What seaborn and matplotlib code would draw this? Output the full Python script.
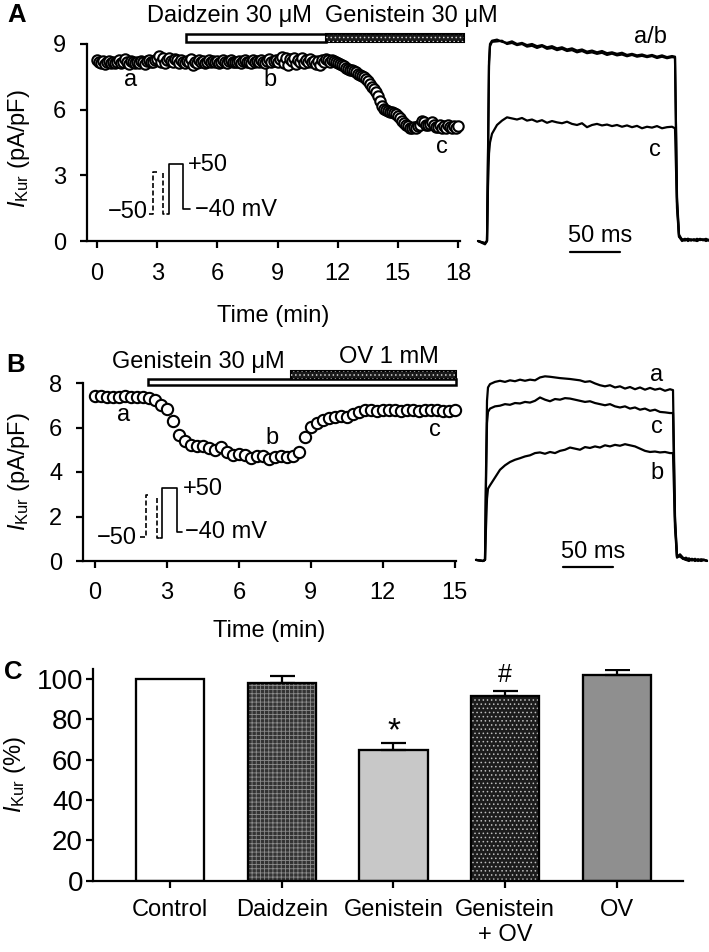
import numpy as np
import pandas as pd
import seaborn as sns
import matplotlib.pyplot as plt
from matplotlib.patches import Rectangle

# ---- panel A: time course, one sweep every 0.1 min ----
a_current = [
    8.25, 8.20, 8.15, 8.22, 8.10, 8.18, 8.24, 8.12, 8.20, 8.15,
    8.18, 8.26, 8.14, 8.20, 8.30, 8.16, 8.10, 8.22, 8.18, 8.12,
    8.20, 8.15, 8.24, 8.18, 8.10, 8.22, 8.28, 8.16, 8.20, 8.25,
    8.30, 8.45, 8.20, 8.35, 8.15, 8.25, 8.38, 8.22, 8.18, 8.30,
    8.25, 8.15, 8.28, 8.20, 8.12, 8.24, 8.18, 8.30, 8.05, 8.20,
    8.15, 8.26, 8.18, 8.22, 8.12, 8.20, 8.28, 8.16, 8.22, 8.18,
    8.24, 8.14, 8.20, 8.26, 8.18, 8.12, 8.22, 8.28, 8.16, 8.20,
    8.18, 8.24, 8.14, 8.22, 8.28, 8.16, 8.20, 8.12, 8.25, 8.18,
    8.22, 8.16, 8.28, 8.20, 8.14, 8.24, 8.30, 8.18, 8.22, 8.26,
    8.20, 8.32, 8.40, 8.15, 8.36, 8.05, 8.30, 8.22, 8.38, 8.10,
    8.28, 8.18, 8.34, 8.12, 8.26, 8.20, 8.30, 8.16, 8.24, 8.10,
    8.22, 8.05, 8.28, 8.18, 8.30, 8.25, 8.20, 8.28, 8.22, 8.18,
    8.12, 8.10, 8.02, 7.98, 7.92, 7.88, 7.80, 7.82, 7.75, 7.70,
    7.62, 7.58, 7.52, 7.50, 7.40, 7.30, 7.18, 7.05, 6.95, 6.80,
    6.62, 6.40, 6.15, 6.05, 6.00, 5.95, 5.90, 5.88, 5.85, 5.80,
    5.70, 5.62, 5.50, 5.40, 5.32, 5.25, 5.18, 5.15, 5.20, 5.18,
    5.25, 5.32, 5.50, 5.42, 5.30, 5.28, 5.35, 5.42, 5.30, 5.22,
    5.20, 5.30, 5.18, 5.25, 5.15, 5.28, 5.20, 5.16, 5.25, 5.18,
    5.25,
]
a_time = np.round(np.arange(len(a_current)) * 0.1, 2)

# ---- panel B: time course, one sweep every 0.25 min ----
b_current = [
    7.42, 7.40, 7.38, 7.36, 7.35, 7.40, 7.35, 7.36, 7.38, 7.33,
    7.25, 7.02, 6.85, 6.28, 5.68, 5.38, 5.22, 5.15, 5.15, 5.07,
    5.00, 5.12, 4.92, 4.78, 4.82, 4.75, 4.62, 4.70, 4.70, 4.58,
    4.68, 4.70, 4.68, 4.72, 4.92, 5.58, 6.02, 6.20, 6.35, 6.42,
    6.48, 6.52, 6.45, 6.62, 6.70, 6.78, 6.80, 6.76, 6.80, 6.78,
    6.80, 6.76, 6.80, 6.78, 6.75, 6.80, 6.78, 6.80, 6.76, 6.72,
    6.80,
]
b_time = np.arange(len(b_current)) * 0.25

# drug application periods (min)
a_daidzein = (4.44, 11.42)
a_genistein = (11.42, 18.3)
b_genistein = (2.21, 15.04)
b_ov = (8.17, 15.04)

# ---- current traces (ms, pA/pF) ----
trace_ms = [-9, -2, 0, 1, 2, 3, 5, 10, 15, 20, 25, 30, 35, 40, 45, 50, 55, 60,
            65, 70, 75, 80, 85, 90, 95, 100, 105, 110, 115, 120, 125, 130, 135,
            140, 145, 150, 155, 160, 165, 170, 175, 180, 185, 188, 190, 192,
            195, 198, 201, 204, 207, 210, 213, 216, 219, 222]

trA_a = [0.0, -0.15, 0.0, 4.0, 8.2, 9.0, 9.15, 9.2, 9.1, 9.05, 9.12, 9.0, 9.05,
         8.95, 9.0, 8.9, 8.95, 8.85, 8.9, 8.8, 8.85, 8.75, 8.8, 8.7, 8.75, 8.65,
         8.7, 8.62, 8.68, 8.58, 8.62, 8.55, 8.6, 8.5, 8.55, 8.48, 8.52, 8.45,
         8.5, 8.42, 8.48, 8.4, 8.45, 8.42, 2.0, 0.3,
         0.05, 0.1, 0.0, 0.08, 0.02, 0.1, 0.04, 0.08, 0.0, 0.06]
trA_b = [0.0, -0.1, 0.0, 3.8, 8.0, 8.9, 9.1, 9.12, 9.15, 9.0, 9.05, 8.95, 9.0,
         8.88, 8.92, 8.82, 8.9, 8.78, 8.82, 8.72, 8.78, 8.68, 8.72, 8.62, 8.68,
         8.58, 8.62, 8.55, 8.6, 8.5, 8.56, 8.48, 8.52, 8.44, 8.5, 8.42, 8.46,
         8.4, 8.45, 8.36, 8.42, 8.35, 8.4, 8.38, 1.8, 0.2,
         0.0, 0.06, 0.1, 0.02, 0.08, 0.0, 0.1, 0.03, 0.07, 0.02]
trA_c = [0.0, -0.1, 0.0, 2.5, 4.0, 4.5, 4.9, 5.3, 5.5, 5.65, 5.6, 5.55, 5.62,
         5.5, 5.55, 5.45, 5.52, 5.4, 5.48, 5.42, 5.38, 5.45, 5.35, 5.3, 5.38,
         5.2, 5.3, 5.35, 5.28, 5.32, 5.25, 5.3, 5.22, 5.28, 5.2, 5.26, 5.15,
         5.22, 5.18, 5.25, 5.15, 5.2, 5.22, 5.15, 1.5, 0.2,
         0.08, 0.02, 0.1, 0.04, 0.06, 0.0, 0.08, 0.05, 0.1, 0.03]

trB_a = [0.05, 0.0, 0.05, 4.0, 7.2, 7.8, 7.95, 8.05, 8.1, 8.05, 8.12, 8.08,
         8.15, 8.1, 8.15, 8.12, 8.25, 8.3, 8.28, 8.25, 8.22, 8.2, 8.18, 8.15,
         8.12, 8.05, 8.08, 7.98, 7.9, 7.85, 7.9, 7.8, 7.85, 7.75, 7.82, 7.72,
         7.8, 7.7, 7.78, 7.7, 7.75, 7.65, 7.72, 7.68, 2.0, 0.2,
         0.3, 0.15, 0.05, 0.12, 0.02, 0.1, 0.0, 0.08, 0.05, 0.0]
trB_c = [0.05, 0.0, 0.05, 3.5, 6.2, 6.7, 6.85, 6.95, 6.98, 7.05, 7.02, 7.1,
         7.08, 7.15, 7.12, 7.2, 7.35, 7.25, 7.18, 7.28, 7.25, 7.32, 7.3, 7.25,
         7.2, 7.15, 7.18, 7.1, 7.05, 7.0, 7.05, 6.95, 6.9, 6.95, 6.85, 6.9,
         6.8, 6.85, 6.75, 6.8, 6.7, 6.68, 6.65, 6.65, 1.8, 0.2,
         0.2, 0.1, 0.05, 0.0, 0.08, 0.02, 0.06, 0.0, 0.04, 0.02]
trB_b = [0.05, 0.0, 0.05, 1.5, 2.8, 3.25, 3.4, 3.75, 4.1, 4.3, 4.45, 4.55,
         4.62, 4.7, 4.75, 4.85, 4.88, 4.82, 4.9, 4.85, 4.95, 5.0, 5.1, 5.05,
         5.0, 5.12, 5.08, 5.15, 5.1, 5.2, 5.15, 5.22, 5.18, 5.25, 5.2, 5.15,
         5.05, 4.95, 4.9, 4.92, 4.88, 4.9, 4.85, 4.85, 1.5, 0.15,
         0.25, 0.1, 0.15, 0.05, 0.1, 0.0, 0.08, 0.03, 0.06, 0.0]

# ---- panel C: summary ----
groups = ['Control', 'Daidzein', 'Genistein', 'Genistein\n+ OV', 'OV']
means = [100, 98.3, 64.8, 91.4, 102.1]
sems = [0, 3.3, 3.3, 2.8, 2.5]
bar_colors = ['white', '#333333', '#c8c8c8', '#1c1c1c', '#8f8f8f']
bar_hatches = [None, '++++', None, '....', None]

sns.set_style('ticks', rc={'axes.edgecolor': 'black', 'xtick.color': 'black',
                           'ytick.color': 'black', 'text.color': 'black',
                           'axes.labelcolor': 'black'})
plt.rcParams['font.family'] = ['Liberation Sans', 'DejaVu Sans']
plt.rcParams.update({
    'mathtext.fontset': 'custom', 'mathtext.rm': 'Liberation Sans',
    'mathtext.it': 'Liberation Sans:italic',
    'axes.linewidth': 1.6, 'xtick.major.width': 1.6, 'ytick.major.width': 1.6,
    'xtick.major.size': 5, 'ytick.major.size': 5,
    'xtick.major.pad': 10, 'ytick.major.pad': 10,
    'font.size': 17, 'xtick.labelsize': 17, 'ytick.labelsize': 17,
    'axes.labelsize': 17, 'hatch.linewidth': 0.6,
})

W, H = 709, 952
fig = plt.figure(figsize=(W / 100, H / 100), dpi=100)


def px_axes(left, top, right, bottom):
    return fig.add_axes([left / W, 1 - bottom / H, (right - left) / W, (bottom - top) / H])


def drug_bar(ax, span, y0, y1, dotted):
    x0, x1 = span
    if dotted:
        ax.add_patch(Rectangle((x0, y0), x1 - x0, y1 - y0, facecolor='#1a1a1a',
                               edgecolor='black', lw=1.5, clip_on=False))
        ax.add_patch(Rectangle((x0, y0), x1 - x0, y1 - y0, fill=False, hatch='....',
                               edgecolor='#cfcfcf', lw=0, clip_on=False))
    else:
        ax.add_patch(Rectangle((x0, y0), x1 - x0, y1 - y0, facecolor='white',
                               edgecolor='black', lw=1.8, clip_on=False))


def protocol(ax, dash1, dash2, solid, lab50, lab_plus, lab_40):
    for pts, ls in [(dash1, (0, (3, 1.5))), (dash2, (0, (3, 1.5))), (solid, '-')]:
        xs, ys = zip(*pts)
        ax.plot(xs, ys, color='black', lw=1.2, ls=ls)
    ax.text(lab50[0], lab50[1], '\u221250', ha='right', va='center')
    ax.text(lab_plus[0], lab_plus[1], '+50', ha='left', va='center')
    ax.text(lab_40[0], lab_40[1], '\u221240 mV', ha='left', va='center')


def time_course(ax, t, v, size):
    sns.scatterplot(x=t, y=v, ax=ax, marker='o', s=size, color='white',
                    edgecolor='black', linewidth=1.5, clip_on=False, zorder=3)


ylab = r'$I_{\mathrm{Kur}}$ (pA/pF)'

# ---------------- panel A ----------------
axA = px_axes(87, 44, 460, 241)
time_course(axA, a_time, a_current, 56)
axA.set_xlim(-0.5, 18.1)
axA.set_ylim(0, 9)
axA.set_xticks(range(0, 19, 3))
axA.set_yticks(range(0, 10, 3))
axA.tick_params(axis='x', pad=11)
axA.set_xlabel('Time (min)', labelpad=14)
axA.set_ylabel(ylab)
axA.yaxis.set_label_coords(-0.147, 0.47)
sns.despine(ax=axA)
drug_bar(axA, a_daidzein, 9.1, 9.45, False)
drug_bar(axA, a_genistein, 9.1, 9.45, True)
axA.text(10.72, 10.27, 'Daidzein 30 \u03bcM', ha='right', va='center')
axA.text(11.37, 10.27, 'Genistein 30 \u03bcM', ha='left', va='center')
axA.text(1.65, 7.35, 'a', ha='center', va='center')
axA.text(8.62, 7.35, 'b', ha='center', va='center')
axA.text(17.18, 4.3, 'c', ha='center', va='center')
protocol(axA,
         [(2.59, 1.22), (2.81, 1.22), (2.81, 3.16), (3.01, 3.16)],
         [(3.31, 3.09), (3.31, 1.22), (3.47, 1.22)],
         [(3.47, 1.22), (3.59, 1.22), (3.59, 3.5), (4.30, 3.5), (4.30, 1.46), (4.64, 1.46)],
         (2.54, 1.34), (4.55, 3.47), (4.89, 1.42))

# traces A
axAt = px_axes(478, 44, 709, 241)
for tr in (trA_a, trA_b, trA_c):
    sns.lineplot(x=trace_ms, y=tr, ax=axAt, color='black', lw=1.6, sort=False,
                 estimator=None, clip_on=False)
axAt.set_xlim(-9, 222)
axAt.set_ylim(0, 9)
axAt.plot([83, 133], [-0.49, -0.49], color='black', lw=1.6, clip_on=False)
axAt.text(113, -0.05, '50 ms', ha='center', va='baseline')
axAt.text(163, 9.33, 'a/b', ha='center', va='center')
axAt.text(168, 4.16, 'c', ha='center', va='center')
axAt.axis('off')

# ---------------- panel B ----------------
axB = px_axes(83, 383, 456, 561)
time_course(axB, b_time, b_current, 66)
axB.set_xlim(-0.5, 15.05)
axB.set_ylim(0, 8)
axB.set_xticks(range(0, 16, 3))
axB.set_yticks(range(0, 9, 2))
axB.set_xlabel('Time (min)', labelpad=12)
axB.set_ylabel(ylab)
axB.yaxis.set_label_coords(-0.137, 0.5)
sns.despine(ax=axB)
drug_bar(axB, b_genistein, 7.91, 8.18, False)
drug_bar(axB, b_ov, 8.18, 8.54, True)
axB.text(4.33, 8.96, 'Genistein 30 \u03bcM', ha='center', va='center')
axB.text(12.25, 9.18, 'OV 1 mM', ha='center', va='center')
axB.text(1.18, 6.56, 'a', ha='center', va='center')
axB.text(7.36, 5.51, 'b', ha='center', va='center')
axB.text(14.17, 5.89, 'c', ha='center', va='center')
protocol(axB,
         [(1.875, 1.08), (2.11, 1.08), (2.11, 2.97), (2.29, 2.97)],
         [(2.57, 2.83), (2.57, 1.03), (2.71, 1.03)],
         [(2.71, 1.03), (2.78, 1.03), (2.78, 3.27), (3.40, 3.27), (3.40, 1.32), (3.61, 1.32)],
         (1.75, 1.03), (3.65, 3.24), (3.75, 1.32))

# traces B
axBt = px_axes(478, 383, 709, 561)
for tr in (trB_a, trB_c, trB_b):
    sns.lineplot(x=trace_ms, y=tr, ax=axBt, color='black', lw=1.6, sort=False,
                 estimator=None, clip_on=False)
axBt.set_xlim(-7, 224)
axBt.set_ylim(0, 8)
axBt.plot([78, 128], [-0.27, -0.27], color='black', lw=1.6, clip_on=False)
axBt.text(108, 0.15, '50 ms', ha='center', va='baseline')
axBt.text(172, 8.36, 'a', ha='center', va='center')
axBt.text(172, 6.04, 'c', ha='center', va='center')
axBt.text(172, 3.94, 'b', ha='center', va='center')
axBt.axis('off')

# ---------------- panel C ----------------
axC = px_axes(92.7, 669, 683, 880.7)
df = pd.DataFrame({'group': groups, 'value': means})
sns.barplot(data=df, x='group', y='value', hue='group',
            palette=dict(zip(groups, bar_colors)), legend=False, width=0.61,
            edgecolor='black', linewidth=1.5, errorbar=None, ax=axC)
pos = np.arange(len(groups))
hatch_colors = [None, '#8c8c8c', None, '#bdbdbd', None]
for i, h in enumerate(bar_hatches):
    if h:
        axC.bar(pos[i], means[i], width=0.61, fill=False, hatch=h,
                edgecolor=hatch_colors[i], lw=0, zorder=1.5)
axC.bar(pos, means, width=0.61, fill=False, edgecolor='black', lw=1.6, zorder=2)
axC.errorbar(pos[1:], means[1:], yerr=[np.zeros(4), sems[1:]], fmt='none',
             ecolor='black', elinewidth=1.6, capsize=9, capthick=1.6, zorder=1.2)
axC.text(2, 74, '*', ha='center', va='center', fontsize=24)
axC.text(3, 102, '#', ha='center', va='center', fontsize=18)
axC.set_xlim(-0.695, 4.594)
axC.set_ylim(0, 105)
axC.set_yticks(range(0, 101, 20))
axC.tick_params(axis='y', pad=2, labelsize=20)
axC.tick_params(axis='x', pad=8)
axC.set_xlabel('')
axC.set_ylabel(r'$I_{\mathrm{Kur}}$ (%)')
axC.yaxis.set_label_coords(-0.11, 0.5)
sns.despine(ax=axC)

# panel letters
for lab, x, y in [('A', 17, 22), ('B', 16, 372), ('C', 13, 679)]:
    fig.text(x / W, 1 - y / H, lab, fontsize=18.5, fontweight='bold',
             ha='center', va='baseline')

fig.savefig('out.png', dpi=100)
